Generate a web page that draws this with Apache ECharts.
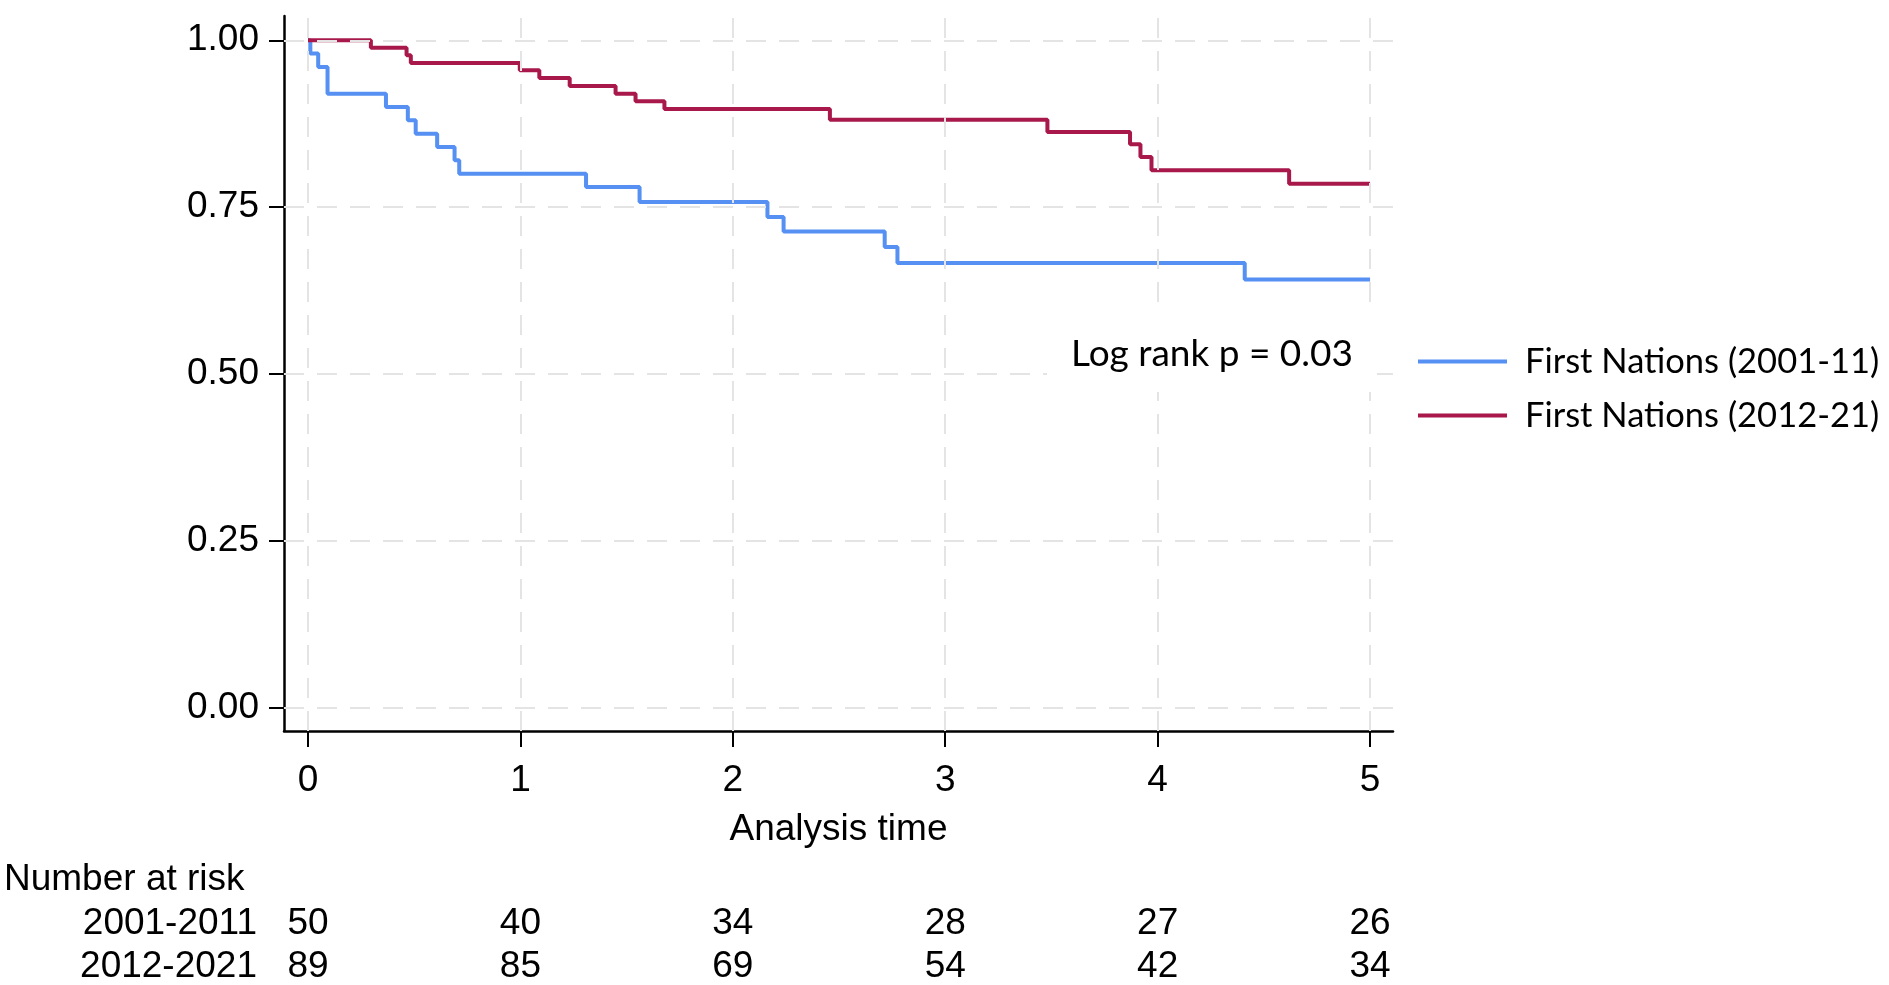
<!DOCTYPE html>
<html>
<head>
<meta charset="utf-8">
<script src="https://cdn.jsdelivr.net/npm/echarts@6/dist/echarts.min.js"></script>
<style>
html,body{margin:0;padding:0;background:#fff;}
#chart{width:1889px;height:985px;}
</style>
</head>
<body>
<div id="chart"></div>
<script>
// ---- data ----
var blueName = 'First Nations (2001-11)';
var redName = 'First Nations (2012-21)';
var blueTimes = [0, 0.011, 0.048, 0.092, 0.367, 0.470, 0.507, 0.608, 0.690, 0.712, 1.309, 1.561, 2.163, 2.239, 2.715, 2.775, 4.410, 5.0];
var blueSurv  = [1, 0.98, 0.96, 0.92, 0.90, 0.88, 0.86, 0.84, 0.82, 0.80, 0.78, 0.7575, 0.735, 0.7135, 0.69, 0.666, 0.6415, 0.6415];
var redTimes  = [0, 0.296, 0.464, 0.484, 0.997, 1.089, 1.232, 1.448, 1.542, 1.678, 2.457, 3.481, 3.870, 3.919, 3.971, 4.619, 5.0];
var redSurv   = [1, 0.9888, 0.9775, 0.966, 0.955, 0.9435, 0.9315, 0.92, 0.9085, 0.897, 0.881, 0.8625, 0.844, 0.825, 0.805, 0.785, 0.785];
var xTicks = [0, 1, 2, 3, 4, 5];
var yTicks = [0, 0.25, 0.5, 0.75, 1];
var riskGroups = ['2001-2011', '2012-2021'];
var riskBlue = [50, 40, 34, 28, 27, 26];
var riskRed  = [89, 85, 69, 54, 42, 34];
var xTitle = 'Analysis time';
var riskTitle = 'Number at risk';
var pText = 'Log rank p = 0.03';

// ---- build ----
function zip(a, b) { return a.map(function (v, i) { return [v, b[i]]; }); }
var riskData = [];
xTicks.forEach(function (t, i) {
  riskData.push([t, 0, riskBlue[i]]);
  riskData.push([t, 1, riskRed[i]]);
});

var FONT = "'Liberation Sans', Arial, sans-serif";
var LFONT = "Lato, 'Open Sans', sans-serif";
var FS = 37;
var BLUE = '#5590F2';
var RED = '#A8184B';
var GRIDC = '#e4e4e4';

var chart = echarts.init(document.getElementById('chart'), null, {renderer: 'canvas'});
var option = {
  animation: false,
  backgroundColor: '#fff',
  grid: [
    {left: 284, right: 496, top: 16, bottom: 254, containLabel: false},
    {left: 284, right: 496, top: 924, bottom: 17, containLabel: false}
  ],
  xAxis: [
    {
      type: 'value', gridIndex: 0, min: -0.113, max: 5.108,
      name: xTitle, nameLocation: 'middle', nameGap: 80,
      nameTextStyle: {fontFamily: FONT, fontSize: FS, color: '#000'},
      axisLine: {show: true, onZero: false, lineStyle: {color: '#000', width: 2.5}},
      axisTick: {show: true, length: 16, customValues: xTicks, lineStyle: {color: '#000', width: 2}},
      axisLabel: {show: true, customValues: xTicks, margin: 31, fontFamily: FONT, fontSize: FS, color: '#000',
        formatter: function (v) { return String(v); }},
      splitLine: {show: false}
    },
    {
      type: 'value', gridIndex: 1, min: -0.113, max: 5.108, show: false
    }
  ],
  yAxis: [
    {
      type: 'value', gridIndex: 0, min: -0.0355, max: 1.0364,
      axisLine: {show: true, onZero: false, lineStyle: {color: '#000', width: 2.5}},
      axisTick: {show: true, length: 15, customValues: yTicks, lineStyle: {color: '#000', width: 2}},
      axisLabel: {show: true, customValues: yTicks, margin: 25, fontFamily: FONT, fontSize: FS, color: '#000',
        formatter: function (v) { return Number(v).toFixed(2); }},
      splitLine: {show: false}
    },
    {
      type: 'category', gridIndex: 1, data: riskGroups, inverse: true, boundaryGap: false,
      axisLine: {show: false}, axisTick: {show: false}, splitLine: {show: false},
      axisLabel: {show: true, interval: 0, showMinLabel: true, showMaxLabel: true, hideOverlap: false,
        margin: 27, fontFamily: FONT, fontSize: FS, color: '#000'}
    }
  ],
  legend: {
    orient: 'vertical', left: 1413, top: 339, itemWidth: 89, itemHeight: 4, itemGap: 19,
    icon: 'rect', selectedMode: false,
    textStyle: {fontFamily: LFONT, fontSize: 34.5, color: '#000', padding: [0, 0, 0, 13]},
    data: [{name: blueName}, {name: redName}]
  },
  series: [
    {
      type: 'line', name: '_grid', xAxisIndex: 0, yAxisIndex: 0, data: [], z: 1, silent: true,
      markLine: {
        silent: true, symbol: ['none', 'none'], label: {show: false}, animation: false,
        lineStyle: {color: GRIDC, width: 2, type: [20, 13]},
        data: xTicks.map(function (t) { return {xAxis: t}; })
          .concat(yTicks.map(function (v) { return {yAxis: v}; }))
      }
    },
    {
      type: 'line', name: blueName, xAxisIndex: 0, yAxisIndex: 0, step: 'end', z: 3,
      data: zip(blueTimes, blueSurv), showSymbol: false, symbol: 'none',
      lineStyle: {color: BLUE, width: 4}, itemStyle: {color: BLUE}
    },
    {
      type: 'line', name: redName, xAxisIndex: 0, yAxisIndex: 0, step: 'end', z: 3,
      data: zip(redTimes, redSurv), showSymbol: false, symbol: 'none',
      lineStyle: {color: RED, width: 4}, itemStyle: {color: RED}
    },
    {
      type: 'custom', name: '_risk', xAxisIndex: 1, yAxisIndex: 1, data: riskData, silent: true,
      renderItem: function (params, api) {
        var p = api.coord([api.value(0), api.value(1)]);
        return {
          type: 'text',
          x: p[0], y: p[1],
          style: {text: String(api.value(2)), font: FS + 'px ' + FONT, fill: '#000',
            align: 'center', verticalAlign: 'middle'}
        };
      }
    }
  ],
  graphic: [
    {type: 'text', left: 4, top: 861, silent: true,
      style: {text: riskTitle, font: FS + 'px ' + FONT, fill: '#000'}},
    {type: 'text', left: 1047, top: 314, z: 10, silent: true,
      style: {text: pText, font: '37px ' + LFONT, fill: '#000',
        backgroundColor: '#fff', padding: [22, 24, 19, 24]}}
  ]
};
chart.setOption(option);
</script>
</body>
</html>
